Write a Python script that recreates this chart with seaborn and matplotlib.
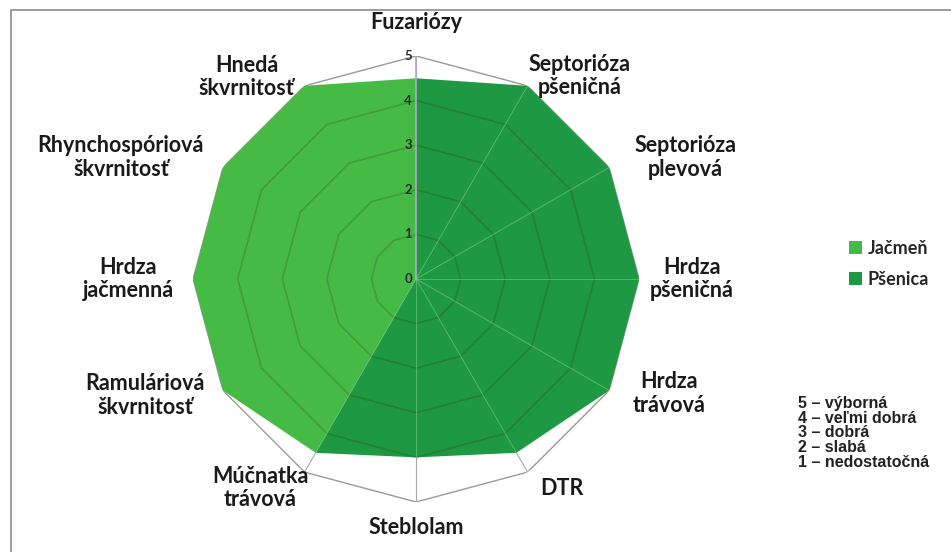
import numpy as np
import pandas as pd
import matplotlib
matplotlib.use('Agg')
import matplotlib.pyplot as plt
import seaborn as sns
from matplotlib.patches import Rectangle, Patch

# Data (hodnotenie odolnosti, 0-5)
categories = ['Fuzariózy', 'Septorióza\npšeničná', 'Septorióza\nplevová', 'Hrdza\npšeničná',
              'Hrdza\ntrávová', 'DTR', 'Steblolam', 'Múčnatka\ntrávová',
              'Ramuláriová\nškvrnitosť', 'Hrdza\njačmenná', 'Rhynchospóriová\nškvrnitosť',
              'Hnedá\nškvrnitosť']
jacmen = [4.5, 0, 0, 0, 0, 0, 0, 4.5, 5, 5, 5, 5]
psenica = [4.5, 5, 5, 5, 5, 4.5, 4, 4.5, 0, 0, 0, 0]
series_names = ['Jačmeň', 'Pšenica']
rings = [1, 2, 3, 4, 5]
tick_labels = ['0', '1', '2', '3', '4', '5']
scale_text = ['5 – výborná', '4 – veľmi dobrá', '3 – dobrá', '2 – slabá', '1 – nedostatočná']

# label offsets in pixels from the outer vertex (layout only)
label_offsets = [(0, 33), (52, 10), (76, 10), (53, 0), (60, -3), (34, -16),
                 (0, -26), (-44, -16), (-78, -5), (-65, 0), (-102, 10), (-58, 9)]

sns.set_style('white')
plt.rcParams['font.family'] = ['Lato', 'DejaVu Sans']

col_light = '#45bb45'
col_dark = '#1e9843'

n = len(categories)
angles = np.linspace(0, 2 * np.pi, n, endpoint=False)
closed = np.append(angles, 2 * np.pi)

fig = plt.figure(figsize=(9.51, 5.52), dpi=100)
ax = fig.add_axes([0.203, 0.0906, 0.469, 0.808], projection='polar')
ax.set_theta_zero_location('N')
ax.set_theta_direction(-1)
ax.set_ylim(0, 5)
ax.grid(False)
ax.set_xticks([])
ax.set_yticks([])
ax.spines['polar'].set_visible(False)
ax.patch.set_alpha(0)

# outer polygon and spokes (gray, visible outside the fills)
outer = pd.DataFrame({'theta': closed, 'r': [rings[-1]] * (n + 1)})
sns.lineplot(data=outer, x='theta', y='r', ax=ax, sort=False, color='#9a9a9a',
             lw=1.0, zorder=1)
for a in angles:
    ax.plot([a, a], [0, 5], color='#a8a8a8', lw=0.8, zorder=1)

# filled areas
ax.fill(closed, jacmen + jacmen[:1], color=col_light, lw=0, zorder=2)
ax.fill(closed, psenica + psenica[:1], color=col_dark, lw=0, zorder=3)

# inner rings showing through the fills
for r in rings[:-1]:
    ring = pd.DataFrame({'theta': closed, 'r': [r] * (n + 1)})
    sns.lineplot(data=ring, x='theta', y='r', ax=ax, sort=False, color='#3a2a10',
                 alpha=0.22, lw=1.2, zorder=4)

# light spokes on the wheat area
for a, v in zip(angles[1:], psenica[1:]):
    if v > 0:
        ax.plot([a, a], [0, v], color='#8fdc8f', lw=0.6, alpha=0.55, zorder=4)
ax.plot([0, 0], [0, 5], color='#b4a6c8', lw=1.2, zorder=5)

# radial tick labels
for i, t in enumerate(tick_labels):
    ax.annotate(t, xy=(0, i), xytext=(-8, 0), textcoords='offset pixels',
                ha='center', va='center', fontsize=9.5, fontweight='bold',
                color='#2a2a2a', zorder=6)

# category labels
for a, lab, off in zip(angles, categories, label_offsets):
    ax.annotate(lab, xy=(a, 5), xytext=off, textcoords='offset pixels',
                ha='center', va='center', fontsize=15.5, fontweight='bold',
                color='#1a1a1a', linespacing=1.15, annotation_clip=False)

ax.set_xlabel('')
ax.set_ylabel('')

handles = [Patch(facecolor=col_light, edgecolor='none'),
           Patch(facecolor=col_dark, edgecolor='none')]
fig.legend(handles, series_names, loc='center left', bbox_to_anchor=(0.876, 0.522),
           frameon=False, handlelength=0.7, handleheight=0.7, handletextpad=0.3,
           labelspacing=0.75, prop={'weight': 'bold', 'size': 13})

fig.text(0.839, 0.283, '\n'.join(scale_text), ha='left', va='top',
         fontsize=11.5, family=['Liberation Sans', 'DejaVu Sans'], fontweight='bold',
         color='#222222', linespacing=0.98)

fig.patches.append(Rectangle((0.0116, -0.05), 1.2, 0.05 + 0.982, transform=fig.transFigure,
                             fill=False, edgecolor='#8c8c8c', lw=1.2))

fig.savefig('out.png', dpi=100)
